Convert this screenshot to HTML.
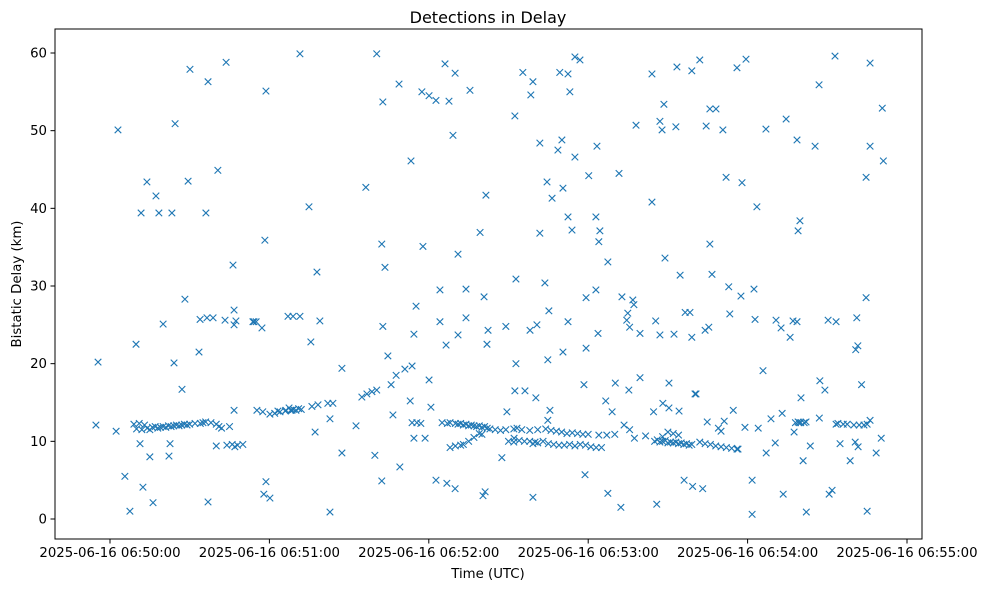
<!DOCTYPE html>
<html><head><meta charset="utf-8"><style>
body{margin:0;background:#fff;}
svg{display:block;font-family:"DejaVu Sans","Liberation Sans",sans-serif;}
</style></head><body>
<svg id="chart" width="988" height="590">
<rect x="0" y="0" width="988" height="590" fill="#fff"/>
<text x="488" y="23" font-size="16" text-anchor="middle">Detections in Delay</text>
<g id="marks"></g>
<g id="xticks"></g>
<g id="yticks"></g>
<rect x="55" y="29" width="867" height="510" fill="none" stroke="#000" stroke-width="1"/>
<text x="488" y="578" font-size="13.3" text-anchor="middle">Time (UTC)</text>
<text x="0" y="0" font-size="13.3" text-anchor="middle" transform="translate(21,284) rotate(-90)">Bistatic Delay (km)</text>
</svg>
<script>
// seconds after 06:50:00
const times = [-5.3,-4.5,2.3,3,5.6,7.5,9.8,11.7,13.9,17.3,18.4,23.3,24.5,20,24.1,28.2,29.4,30.1,33.5,36.1,36.9,40.6,43.7,46.3,46.7,47.4,58.3,58.7,57.2,54.2,71.5,74.9,77.9,79,75.6,68.9,71.5,67,96.3,100.4,102.3,102.7,103.5,104.6,102.7,108.8,113.3,117.4,117.8,120.1,122.7,126.1,129.9,129.1,127.6,135.5,131,139.3,141.5,134,140.8,124.2,124.2,115.2,114.4,126.5,131,134,142.3,141.9,149,152.4,155.4,159.2,158.4,161.8,164.5,166.4,168.6,170.1,170.5,172.4,173.9,175,176.9,173.1,169.3,172.4,175,180.2,183.3,182.9,184,184.4,187.4,182.9,179.2,152.8,152.8,161.8,163.7,165.2,160.7,158.1,156.2,164.8,170.5,172.4,179.2,183.7,191.6,198,204,207,207.8,208.5,213,213.4,219,222,204,208.9,214.6,224.4,225.8,228.1,230.7,236,239.4,231.9,237.9,243.5,246.9,254.5,258.6,259,259.7,265.4,266.9,272.9,284.6,286.1,286.1,290.7,291.1,281.1,280.7,281.5,282.9,284.6,225.8,226.6,192.7,196.8,197.2,194.9,194.5,195.6,199.5,205.4,207,212.3,216.5,218.3,219,224,225.4,232.9,233.3,237.5,242.4,242.8,245.8,250.7,252.6,256,257.1,258.6,270.3,273.3,267.2,269.1,210.4,220.2,195.3,199.5,190.2,178.4,165.6,160.3,152.4,186.6,
33.9,36.5,38.8,43.3,46.7,53.8,55,46.7,55.3,57.5,60.2,58.7,57.9,60.2,36.9,16.2,12.4,15,22.2,22.6,11.3,27.1,66.2,63.2,68.5,67.4,76,78.3,82,83.9,82.8,87.3,87.3,92.6,77.2,82.8,94.8,96.7,98.6,99.7,102.3,100.4,106.5,105.8,107.7,109.1,111,113.7,113,114.4,113.7,115.5,117,118.6,120.1,120.8,122.7,126.8,129.9,140.4,141.2,147.5,149.4,152.1,153.2,159.2,159.2,164.8,178.8,187.4,192.3,189,193.5,195.6,197.4,201.6,204.6,205.8,208.1,210.4,214.2,216.1,219.3,223.1,220.6,224.8,231.2,234.6,236.4,239,241.7,241.7,244,247,248.8,250.4,253,253.4,257.5,259.4,260.1,261.3,260.9,262.1,263.6,267,270.7,271.8,273.3,274.8,277.5,278.6,280.5,281.6,283.8,285,286.1,288.4,290.3,
9,10,11,12,13,14,15,16,17,18,19,20,21,22,23,24,25,26,27,28,29,30,32,34,35,36,38,40,41,42,44,40,46,47,48,50,45,
62,64,66,68,69,70,71,72,
125,127,128,130,131,132,133,134,135,136,137,138,139,140,141,142,143,145,147,149,128,130,132,133,135,137,139,140,
150,152,154,156,158,160,161,163,165,167,169,171,173,175,177,179,181,183,185,152,155,158,161,164,166,168,170,172,174,176,178,180,184,187,190,
205,206,207,208,209,210,211,212,213,214,215,216,217,218,219,222,224,226,228,230,232,234,236,212,210,214,208,229,230,
258,259,260,262,274,276,280,282,285];
const delays = [12.1,20.2,11.3,50.1,5.5,1.0,22.5,39.4,43.4,41.6,39.4,39.4,50.9,25.1,20.1,28.3,43.5,57.9,21.5,39.4,56.3,44.9,58.8,32.7,26.9,25.5,35.9,55.1,24.6,25.4,59.9,40.2,31.8,25.5,22.8,26.1,26.1,26.1,42.7,59.9,35.4,24.8,32.4,21.0,53.7,56.0,46.1,55.0,35.1,54.5,53.9,58.6,57.4,49.4,53.8,55.2,34.1,36.9,41.7,29.6,28.6,29.5,25.4,27.4,23.8,22.4,23.7,25.9,24.3,22.5,24.8,51.9,57.5,56.3,54.6,48.4,43.4,41.3,47.5,48.8,42.6,38.9,37.2,59.5,59.1,55.0,57.5,57.3,46.6,44.2,48.0,38.9,35.7,37.1,33.1,29.5,28.5,30.9,20.0,36.8,30.4,26.8,25.0,24.3,16.5,20.5,21.5,25.4,22.0,23.9,44.5,50.7,57.3,51.2,50.1,53.4,50.5,58.2,57.7,59.1,40.8,33.6,31.4,50.6,52.8,52.8,50.1,58.1,59.2,44.0,43.3,40.2,50.2,51.5,48.8,37.1,38.4,48.0,55.9,59.6,44.0,48.0,58.7,52.9,46.1,25.9,21.8,22.3,17.3,28.5,35.4,31.5,28.6,28.2,27.6,26.5,25.6,24.7,23.9,25.5,23.7,23.8,26.6,26.6,23.4,24.3,24.7,29.9,26.4,28.7,29.6,25.7,19.1,25.6,24.6,23.4,25.5,25.4,25.6,25.4,17.8,16.6,17.5,16.1,16.6,18.2,17.5,17.3,14.0,15.6,16.5,15.2,
25.7,25.9,25.9,25.6,25.0,25.4,25.4,14.0,14.0,13.8,13.5,4.8,3.2,2.7,2.2,2.1,4.1,8.0,8.1,9.7,9.7,16.7,14.0,13.9,14.0,14.3,14.5,14.7,14.9,14.9,12.9,19.4,8.5,12.0,11.2,0.9,15.7,16.1,16.4,8.2,4.9,16.6,13.4,17.3,18.5,6.7,19.3,19.7,15.2,10.4,12.4,12.4,12.3,10.4,17.9,14.4,5.0,4.6,3.9,3.0,3.5,7.9,13.8,10.4,11.7,9.7,2.8,12.7,5.7,3.3,1.5,13.8,12.1,11.5,10.4,10.7,13.8,1.9,14.9,14.3,13.9,5.0,4.2,3.9,16.1,12.5,12.6,14.0,9.0,11.8,5.0,0.6,11.7,8.5,12.9,9.8,13.6,3.2,11.2,12.4,15.6,12.4,7.5,0.9,9.4,13.0,3.2,3.7,12.2,9.7,12.2,7.5,9.9,9.3,12.1,1.0,12.7,8.5,10.4,
12.2,11.6,12.3,11.5,12.1,11.7,11.5,11.8,11.9,11.7,11.8,11.9,11.8,12.0,11.9,12.0,12.1,12.0,12.1,12.2,12.1,12.2,12.3,12.3,12.4,12.5,12.4,12.2,11.9,11.7,9.5,9.4,9.6,9.3,9.5,9.6,11.9,
13.6,13.8,13.9,14.0,14.1,14.0,14.2,14.1,
12.4,12.3,12.4,12.3,12.2,12.3,12.1,12.2,12.0,12.1,12.0,11.9,12.0,11.8,11.9,11.7,11.6,11.5,11.4,11.5,9.2,9.4,9.5,9.6,10.0,10.5,11.0,10.9,
10.0,9.9,10.1,10.0,10.0,9.9,9.8,10.0,9.7,9.6,9.5,9.5,9.6,9.4,9.6,9.5,9.3,9.2,9.2,11.6,11.5,11.4,11.5,11.6,11.4,11.3,11.2,11.0,11.1,11.0,10.9,10.9,10.8,10.8,10.9,
10.0,10.2,9.9,10.0,10.1,9.8,9.9,9.8,9.9,9.7,9.8,9.6,9.7,9.5,9.6,9.9,9.7,9.6,9.4,9.3,9.2,9.1,9.0,11.0,11.2,10.8,10.6,11.7,11.3,
12.4,12.5,12.4,12.5,12.3,12.2,12.1,12.1,12.2];
const xTickValues = [0,60,120,180,240,300];
const xTickLabels = ["2025-06-16 06:50:00","2025-06-16 06:51:00","2025-06-16 06:52:00","2025-06-16 06:53:00","2025-06-16 06:54:00","2025-06-16 06:55:00"];
const yTickValues = [0,10,20,30,40,50,60];
const yTickLabels = ["0","10","20","30","40","50","60"];

const NS="http://www.w3.org/2000/svg";
function xScale(t){return 110 + t*(797/300);}
function yScale(d){return 519 - d*(466/60);}
const marks=document.getElementById('marks');
const n=Math.min(times.length,delays.length);
for(let i=0;i<n;i++){
  const cx=xScale(times[i]), cy=yScale(delays[i]), s=3.3;
  const p=document.createElementNS(NS,'path');
  p.setAttribute('d',`M${cx-s},${cy-s}L${cx+s},${cy+s}M${cx-s},${cy+s}L${cx+s},${cy-s}`);
  p.setAttribute('stroke','#1f77b4');p.setAttribute('stroke-width','1.1');p.setAttribute('fill','none');
  
  
  marks.appendChild(p);
}
const xg=document.getElementById('xticks');
xTickValues.forEach((v,i)=>{
  const x=xScale(v);
  const l=document.createElementNS(NS,'line');
  l.setAttribute('x1',x);l.setAttribute('x2',x);l.setAttribute('y1',539);l.setAttribute('y2',543.5);l.setAttribute('stroke','#000');
  
  
  xg.appendChild(l);
  const t=document.createElementNS(NS,'text');
  t.setAttribute('x',x);t.setAttribute('y',557);t.setAttribute('font-size','13.3');t.setAttribute('text-anchor','middle');
  t.textContent=xTickLabels[i];
  
  
  xg.appendChild(t);
});
const yg=document.getElementById('yticks');
yTickValues.forEach((v,i)=>{
  const y=yScale(v);
  const l=document.createElementNS(NS,'line');
  l.setAttribute('x1',50.5);l.setAttribute('x2',55);l.setAttribute('y1',y);l.setAttribute('y2',y);l.setAttribute('stroke','#000');
  
  
  yg.appendChild(l);
  const t=document.createElementNS(NS,'text');
  t.setAttribute('x',47);t.setAttribute('y',y+4.5);t.setAttribute('font-size','13.3');t.setAttribute('text-anchor','end');
  t.textContent=yTickLabels[i];
  
  
  yg.appendChild(t);
});
</script>
</body></html>
